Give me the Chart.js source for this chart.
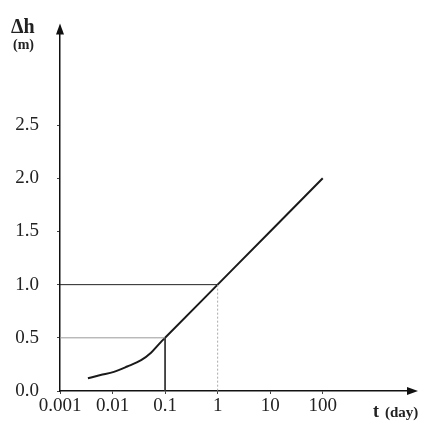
<!DOCTYPE html>
<html>
<head>
<meta charset="utf-8">
<script src="https://cdn.jsdelivr.net/npm/chart.js@4/dist/chart.umd.min.js"></script>
<style>
  body { margin: 0; background: #fff; }
  #wrap { width: 426px; height: 426px; }
</style>
</head>
<body>
<div id="wrap"><canvas id="chart" width="426" height="426"></canvas></div>
<script>
const xTicks = [0.001, 0.01, 0.1, 1, 10, 100];
const yTicks = [0.0, 0.5, 1.0, 1.5, 2.0, 2.5];

// drawdown curve
const curveT = [0.0034, 0.0059, 0.0106, 0.019, 0.035, 0.054, 0.083, 0.1, 1, 10, 100];
const curveH = [0.12, 0.15, 0.18, 0.23, 0.29, 0.36, 0.46, 0.5, 1.0, 1.5, 2.0];

// guide lines (t, dh) marked on the graph
const guideT = [1, 0.1];
const guideH = [1.0, 0.5];

const serif = "'Liberation Serif', 'DejaVu Serif', serif";

const axisArrows = {
  id: "axisArrows",
  afterDraw(chart) {
    const ctx = chart.ctx;
    const area = chart.chartArea;
    ctx.save();
    ctx.fillStyle = "#111";
    // y arrow
    ctx.beginPath();
    ctx.moveTo(area.left, area.top - 6);
    ctx.lineTo(area.left - 4, area.top + 5);
    ctx.lineTo(area.left + 4, area.top + 5);
    ctx.closePath();
    ctx.fill();
    // x arrow
    ctx.beginPath();
    ctx.moveTo(area.right + 6, area.bottom);
    ctx.lineTo(area.right - 5, area.bottom - 4);
    ctx.lineTo(area.right - 5, area.bottom + 4);
    ctx.closePath();
    ctx.fill();

    ctx.fillStyle = "#222";
    ctx.textBaseline = "alphabetic";
    ctx.textAlign = "left";
    ctx.font = "bold 20px " + serif;
    ctx.fillText("Δh", 11, 33);
    ctx.font = "bold 14px " + serif;
    ctx.fillText("(m)", 13, 49);
    ctx.font = "bold 18px " + serif;
    ctx.fillText("t", 373, 417);
    ctx.font = "bold 15px " + serif;
    ctx.fillText("(day)", 385, 417);
    ctx.restore();
  },
};

const guides = [
  { data: [{ x: xTicks[0], y: guideH[0] }, { x: guideT[0], y: guideH[0] }], color: "#222", dash: [] },
  { data: [{ x: guideT[0], y: guideH[0] }, { x: guideT[0], y: 0 }], color: "#aaa", dash: [2, 2] },
  { data: [{ x: xTicks[0], y: guideH[1] }, { x: guideT[1], y: guideH[1] }], color: "#999", dash: [] },
  { data: [{ x: guideT[1], y: guideH[1] }, { x: guideT[1], y: 0 }], color: "#333", dash: [] },
];

const datasets = guides.map((g) => ({
  data: g.data,
  showLine: true,
  borderColor: g.color,
  borderWidth: 1,
  borderDash: g.dash,
  pointRadius: 0,
}));

datasets.push({
  data: curveT.map((t, i) => ({ x: t, y: curveH[i] })),
  showLine: true,
  borderColor: "#1a1a1a",
  borderWidth: 2,
  pointRadius: 0,
  cubicInterpolationMode: "monotone",
});

new Chart(document.querySelector("#chart"), {
  type: "scatter",
  data: { datasets: datasets },
  options: {
    responsive: false,
    animation: false,
    layout: { padding: { top: 27, right: 14, left: 0, bottom: 0 } },
    plugins: { legend: { display: false }, tooltip: { enabled: false } },
    scales: {
      x: {
        type: "logarithmic",
        min: 0.001,
        max: 5000,
        afterBuildTicks: (scale) => {
          scale.ticks = xTicks.map((v) => ({ value: v }));
        },
        afterFit: (scale) => {
          scale.height = 35;
        },
        border: { display: true, color: "#111", width: 1.5 },
        grid: { drawOnChartArea: false, tickLength: 3, color: "#444" },
        ticks: {
          color: "#222",
          font: { family: serif, size: 19 },
          padding: 1,
          maxRotation: 0,
          autoSkip: false,
          callback: (v) => String(v),
        },
      },
      y: {
        type: "linear",
        min: 0,
        max: 3.4,
        afterBuildTicks: (scale) => {
          scale.ticks = yTicks.map((v) => ({ value: v }));
        },
        afterFit: (scale) => {
          scale.width = 60;
        },
        border: { display: true, color: "#111", width: 1.5 },
        grid: { drawOnChartArea: false, tickLength: 3, color: "#444" },
        ticks: {
          color: "#222",
          font: { family: serif, size: 19 },
          padding: 18,
          callback: (v) => v.toFixed(1),
        },
      },
    },
  },
  plugins: [axisArrows],
});
</script>
</body>
</html>
